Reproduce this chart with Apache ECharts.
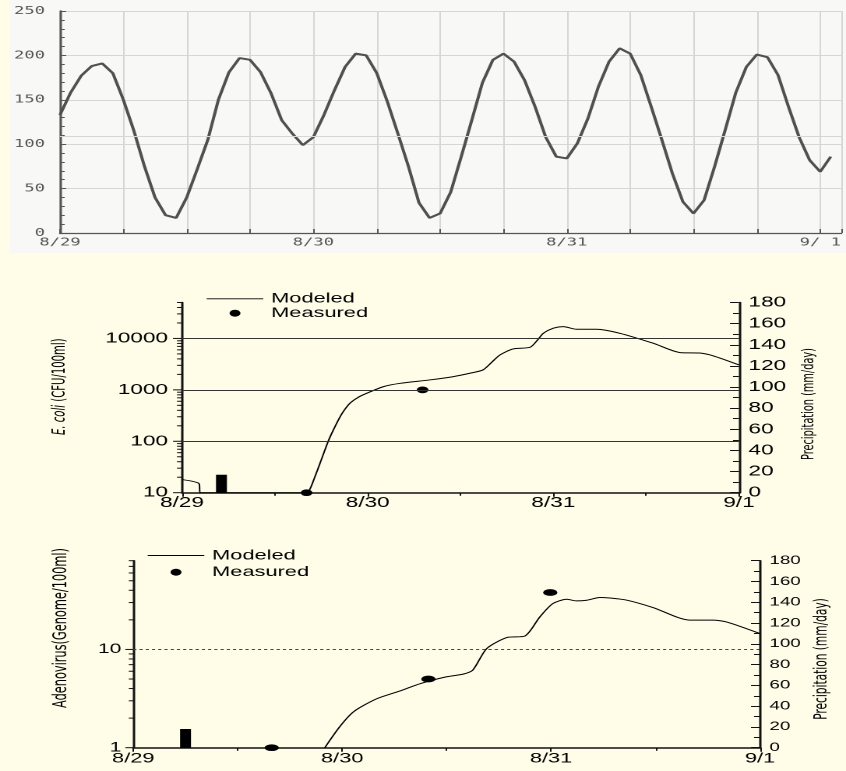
<!DOCTYPE html>
<html>
<head>
<meta charset="utf-8">
<script src="https://cdn.jsdelivr.net/npm/echarts@6/dist/echarts.min.js"></script>
<style>
  html, body { margin: 0; padding: 0; overflow: hidden; background: #fffce8; }
  /* the figure is laid out narrow and widened horizontally */
  #chart { width: 543px; height: 771px; transform: scaleX(1.558011); transform-origin: 0 0; }
</style>
</head>
<body>
<div id="chart"></div>
<script>
// ---------- data ----------
// water level, hourly from 8/29 00:00
const tideDayLabels = ['8/29', '8/30', '8/31', '9/ 1'];
const tideLevel = [
  133, 158, 177, 188, 191, 180, 150, 115, 75, 40,
  20, 17, 40, 72, 105, 150, 181, 197, 195, 181,
  157, 127, 112, 99, 108, 133, 161, 187, 202, 200,
  180, 148, 112, 75, 34, 17, 22, 46, 86, 127,
  169, 195, 202, 193, 172, 142, 108, 86, 84, 101,
  129, 165, 193, 208, 202, 178, 142, 105, 67, 35,
  22, 37, 75, 116, 158, 187, 201, 198, 178, 142,
  108, 82, 69, 86
];
const tideReference = 109;

const dayLabels = ['8/29', '8/30', '8/31', '9/1'];

// E. coli (hours after 8/29 00:00)
const ecoliModeledHours = [0, 2.2, 2.35, 16, 16.5, 17.1, 17.8, 18.9, 19.6, 20.6, 21.7, 22.8, 23.9, 26, 28.2, 32, 35, 37.5, 38.9, 40, 41.1, 42.8, 45, 46, 46.7, 48, 49.3, 51, 53.6, 56.6, 60.9, 64.4, 66.9, 68.7, 72];
const ecoliModeled      = [18, 15, 10, 10, 11.5, 19, 36, 100, 170, 330, 548, 720, 860, 1150, 1340, 1560, 1800, 2150, 2440, 3400, 4780, 6250, 6740, 9500, 12600, 15800, 17000, 15100, 15100, 12600, 8070, 5300, 5200, 4570, 3050];
const ecoliMeasuredHours = [16.1, 31.1];
const ecoliMeasured      = [10, 1000];
const ecoliRainHours = [5.1];
const ecoliRain      = [17];
const ecoliGridValues = [100, 1000, 10000];
const ecoliTickValues = [10, 20, 30, 40, 50, 60, 70, 80, 90,
  100, 200, 300, 400, 500, 600, 700, 800, 900,
  1000, 2000, 3000, 4000, 5000, 6000, 7000, 8000, 9000,
  10000, 20000, 30000, 40000, 50000];

// Adenovirus
const adenoModeledHours = [22, 23.7, 25.3, 27.9, 30.6, 33, 36, 37.9, 39, 40.6, 42.9, 45, 46.7, 48.2, 49.8, 50.9, 52.1, 53.6, 54.7, 56.7, 59.7, 63.9, 66.6, 68.2, 72];
const adenoModeled      = [1.0, 1.63, 2.32, 3.13, 3.77, 4.5, 5.27, 5.61, 6.16, 10.2, 13.2, 13.7, 21.4, 29.3, 32.4, 31.2, 31.7, 33.8, 33.4, 31.7, 26.7, 19.9, 19.9, 19.0, 14.5];
const adenoMeasuredHours = [15.9, 33.9, 47.9];
const adenoMeasured      = [1, 5, 38];
const adenoRainHours = [6.0];
const adenoRain      = [18];
const adenoGridValues = [10];
const adenoTickValues = [1, 2, 3, 4, 5, 6, 7, 8, 9, 10, 20, 30, 40, 50, 60, 70, 80];

// ---------- helpers ----------
const S = 846 / 543;            // horizontal widening of the chart element
const hx = v => v / S;          // widened pixels -> layout pixels
const pairs = (xs, ys) => xs.map((x, i) => [x, ys[i]]);
const isDecade = v => Math.abs(Math.log10(v) - Math.round(Math.log10(v))) < 1e-6;
const dayFormatter = labels => v => (v % 24 === 0 && v / 24 < labels.length) ? labels[v / 24] : '';
const SANS = 'Liberation Sans';
const MONO = 'DejaVu Sans Mono';

// narrow face for the vertical axis titles, if one is installed
const measureCtx = document.createElement('canvas').getContext('2d');
function installed(family) {
  measureCtx.font = '40px monospace';
  const a = measureCtx.measureText('Precipitation (mm/day)').width;
  measureCtx.font = `40px "${family}", monospace`;
  const b = measureCtx.measureText('Precipitation (mm/day)').width;
  return Math.abs(a - b) > 0.5;
}
const TITLE_FONT = ['Liberation Sans Narrow', 'DejaVu Sans Condensed', 'Liberation Sans'].find(installed) || SANS;
// font size that gives a title the wanted length
function sizeFor(text, length) {
  measureCtx.font = `100px "${TITLE_FONT}"`;
  return 100 * length / measureCtx.measureText(text).width;
}

function logTickRenderer(majorLen, minorLen) {
  return function (params, api) {
    const v = api.value(1);
    const p = api.coord([api.value(0), v]);
    const len = isDecade(v) ? majorLen : minorLen;
    return {
      type: 'line',
      shape: { x1: p[0] - len, y1: p[1], x2: p[0], y2: p[1] },
      style: { stroke: '#111', lineWidth: 1 }
    };
  };
}

function verticalTitle(x, y, text, length, rich) {
  const size = sizeFor(text.replace(/\{i\|([^}]*)\}/g, '$1'), length);
  const style = {
    text, fontFamily: TITLE_FONT, fontSize: size, fill: '#000',
    align: 'center', verticalAlign: 'middle'
  };
  if (rich) style.rich = { i: { fontStyle: 'italic', fontFamily: TITLE_FONT, fontSize: size, fill: '#000' } };
  return { type: 'text', x, y, rotation: Math.PI / 2, silent: true, style };
}

const chart = echarts.init(document.getElementById('chart'), null, { renderer: 'canvas', devicePixelRatio: 2 });

const dayPx = 257.3;   // widened width of one day in the tide panel
const LINE_ICON = 'path://M0,0L40,0L40,1L0,1Z';

const legendBase = {
  orient: 'vertical', padding: 0, itemWidth: hx(56.6), itemHeight: 7, selectedMode: false,
  textStyle: { fontFamily: SANS, fontSize: 14, color: '#000', lineHeight: 13 },
  data: [
    { name: 'Modeled', icon: LINE_ICON, itemStyle: { color: '#000' } },
    { name: 'Measured', icon: 'circle', itemStyle: { color: '#000', opacity: 1 } }
  ]
};

const option = {
  animation: false,
  backgroundColor: '#fffce8',
  grid: [
    { left: hx(60), top: 11, width: hx(dayPx * 74 / 24), height: 222 },
    { left: hx(182), top: 302.5, width: hx(739 - 182), height: 190.2 },
    { left: hx(133.3), top: 560.7, width: hx(760 - 133.3), height: 187 }
  ],
  legend: [
    Object.assign({}, legendBase, { left: hx(206.7), top: 291.8, itemGap: 0.4 }),
    Object.assign({}, legendBase, { left: hx(147.7), top: 548.5, itemGap: 2.7 })
  ],
  xAxis: [
    {
      gridIndex: 0, type: 'value', min: 0, max: 74, interval: 6,
      axisLine: { lineStyle: { color: '#555', width: 1.3 } },
      axisTick: { inside: true, length: 4, lineStyle: { color: '#555' } },
      splitLine: { show: true, lineStyle: { color: '#d6d6d6', width: 1 } },
      axisLabel: { formatter: dayFormatter(tideDayLabels), fontFamily: MONO, fontSize: 11, color: '#555', margin: 4 }
    },
    {
      gridIndex: 1, type: 'value', min: 0, max: 72, interval: 24,
      axisLine: { lineStyle: { color: '#111', width: 1.5 } },
      axisTick: { length: 4, lineStyle: { color: '#111' } },
      minorTick: { show: true, splitNumber: 2, length: 3, lineStyle: { color: '#111' } },
      splitLine: { show: false },
      axisLabel: { formatter: dayFormatter(dayLabels), fontFamily: SANS, fontSize: 14.5, color: '#000', margin: 3 }
    },
    {
      gridIndex: 2, type: 'value', min: 0, max: 72, interval: 24,
      axisLine: { lineStyle: { color: '#111', width: 1.5 } },
      axisTick: { length: 4, lineStyle: { color: '#111' } },
      minorTick: { show: true, splitNumber: 2, length: 3, lineStyle: { color: '#111' } },
      splitLine: { show: false },
      axisLabel: { formatter: dayFormatter(dayLabels), fontFamily: SANS, fontSize: 14, color: '#000', margin: 4 }
    }
  ],
  yAxis: [
    {
      gridIndex: 0, type: 'value', min: 0, max: 250, interval: 50,
      axisLine: { show: true, lineStyle: { color: '#555', width: 1.5 } },
      axisTick: { show: true, inside: true, length: 4, lineStyle: { color: '#555' } },
      minorTick: { show: true, splitNumber: 5, length: 3, lineStyle: { color: '#555' } },
      splitLine: { show: true, lineStyle: { color: '#d6d6d6', width: 1 } },
      axisLabel: { fontFamily: MONO, fontSize: 11, color: '#555', margin: hx(15) }
    },
    {
      gridIndex: 1, type: 'log', logBase: 10, min: 10, max: 50000, position: 'left',
      axisLine: { show: true, lineStyle: { color: '#111', width: 1.5 } },
      axisTick: { show: false },
      splitLine: { show: false },
      axisLabel: { formatter: v => isDecade(v) ? String(Math.round(v)) : '', fontFamily: SANS, fontSize: 14.5, color: '#000', margin: hx(14) }
    },
    {
      gridIndex: 1, type: 'value', min: 0, max: 180, interval: 20, position: 'right',
      axisLine: { show: true, lineStyle: { color: '#111', width: 1.5 } },
      axisTick: { show: true, inside: true, length: hx(9), lineStyle: { color: '#111' } },
      minorTick: { show: true, splitNumber: 2, length: hx(6), lineStyle: { color: '#111' } },
      splitLine: { show: false },
      axisLabel: { fontFamily: SANS, fontSize: 14.5, color: '#000', margin: hx(9.5) }
    },
    {
      gridIndex: 2, type: 'log', logBase: 10, min: 1, max: 80, position: 'left',
      axisLine: { show: true, lineStyle: { color: '#111', width: 1.5 } },
      axisTick: { show: false },
      splitLine: { show: false },
      axisLabel: { formatter: v => isDecade(v) ? String(Math.round(v)) : '', fontFamily: SANS, fontSize: 13.5, color: '#000', margin: hx(12) }
    },
    {
      gridIndex: 2, type: 'value', min: 0, max: 180, interval: 20, position: 'right',
      axisLine: { show: true, lineStyle: { color: '#111', width: 1.5 } },
      axisTick: { show: true, inside: true, length: hx(9), lineStyle: { color: '#111' } },
      minorTick: { show: true, splitNumber: 2, length: hx(6), lineStyle: { color: '#111' } },
      splitLine: { show: false },
      axisLabel: { fontFamily: SANS, fontSize: 12, color: '#000', margin: hx(9.5) }
    }
  ],
  series: [
    // tide panel
    {
      name: 'Water level', type: 'line', xAxisIndex: 0, yAxisIndex: 0,
      data: tideLevel.map((v, h) => [h, v]),
      symbol: 'none', lineStyle: { color: '#505050', width: 2 },
      markLine: {
        silent: true, symbol: 'none', label: { show: false },
        lineStyle: { color: '#d6d6d6', width: 1, type: 'solid' },
        data: [{ yAxis: tideReference }]
      }
    },
    // E. coli panel
    {
      name: 'Precipitation', type: 'bar', xAxisIndex: 1, yAxisIndex: 2,
      data: pairs(ecoliRainHours, ecoliRain), barWidth: 7,
      itemStyle: { color: '#000' }
    },
    {
      name: 'Modeled', type: 'line', xAxisIndex: 1, yAxisIndex: 1,
      data: pairs(ecoliModeledHours, ecoliModeled),
      symbol: 'none', smooth: 0.25, lineStyle: { color: '#000', width: 1 }, itemStyle: { color: '#000' },
      markLine: {
        silent: true, symbol: 'none', label: { show: false },
        lineStyle: { color: '#333', width: 1, type: 'solid' },
        data: ecoliGridValues.map(v => ({ yAxis: v }))
      }
    },
    {
      name: 'Measured', type: 'scatter', xAxisIndex: 1, yAxisIndex: 1,
      data: pairs(ecoliMeasuredHours, ecoliMeasured),
      symbol: 'circle', symbolSize: [7.5, 6.7], itemStyle: { color: '#000', opacity: 1 }
    },
    {
      name: 'E. coli ticks', type: 'custom', xAxisIndex: 1, yAxisIndex: 1, silent: true, clip: false,
      data: ecoliTickValues.map(v => [0, v]),
      renderItem: logTickRenderer(hx(9), hx(5))
    },
    // Adenovirus panel
    {
      name: 'Precipitation', type: 'bar', xAxisIndex: 2, yAxisIndex: 4,
      data: pairs(adenoRainHours, adenoRain), barWidth: 7,
      itemStyle: { color: '#000' }
    },
    {
      name: 'Modeled', type: 'line', xAxisIndex: 2, yAxisIndex: 3,
      data: pairs(adenoModeledHours, adenoModeled),
      symbol: 'none', smooth: 0.25, lineStyle: { color: '#000', width: 1 }, itemStyle: { color: '#000' },
      markLine: {
        silent: true, symbol: 'none', label: { show: false },
        lineStyle: { color: '#444', width: 1, type: [2, 2] },
        data: adenoGridValues.map(v => ({ yAxis: v }))
      }
    },
    {
      name: 'Measured', type: 'scatter', xAxisIndex: 2, yAxisIndex: 3,
      data: pairs(adenoMeasuredHours, adenoMeasured),
      symbol: 'circle', symbolSize: [9.2, 6.7], itemStyle: { color: '#000', opacity: 1 }
    },
    {
      name: 'Adenovirus ticks', type: 'custom', xAxisIndex: 2, yAxisIndex: 3, silent: true, clip: false,
      data: adenoTickValues.map(v => [0, v]),
      renderItem: logTickRenderer(hx(8), hx(4.5))
    }
  ],
  graphic: [
    // light panel behind the water-level plot
    { type: 'rect', z: -100, silent: true, shape: { x: hx(10), y: 0, width: 600, height: 253 }, style: { fill: '#f8f8f7' } },
    verticalTitle(hx(60), 386.7, '{i|E. coli} (CFU/100ml)', 96.7, true),
    verticalTitle(hx(809), 404, 'Precipitation (mm/day)', 112),
    verticalTitle(hx(61), 628, 'Adenovirus(Genome/100ml)', 160),
    verticalTitle(hx(821.7), 659, 'Precipitation (mm/day)', 121.7)
  ]
};

chart.setOption(option);
</script>
</body>
</html>
